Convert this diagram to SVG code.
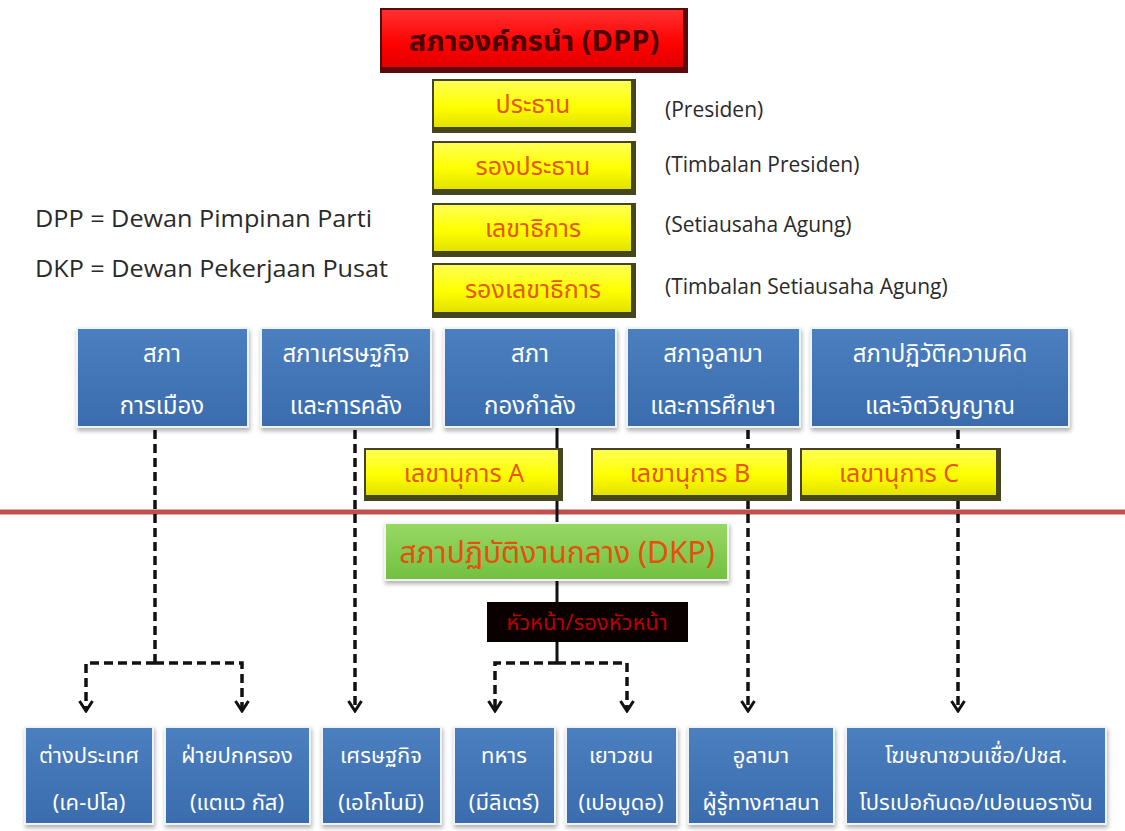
<svg xmlns="http://www.w3.org/2000/svg" width="1125" height="831" viewBox="0 0 1125 831">
<defs>
<style>
.th{font-family:"Noto Sans Thai","Noto Sans Thai UI","Noto Sans","DejaVu Sans",sans-serif;text-anchor:middle}
.lat{font-family:"Open Sans","Noto Sans","DejaVu Sans",sans-serif;fill:#2a2a2a}
.wt{fill:#ffffff;font-size:24px}
.wb{fill:#ffffff;font-size:22px}
.org{fill:#e8560c;font-size:25px}
.dash{fill:none;stroke:#111;stroke-width:3.5;stroke-dasharray:9 5}
.solid{fill:none;stroke:#111;stroke-width:3}
.blue{fill:url(#gb);stroke:#eef3f8;stroke-width:2;filter:url(#sh)}
.yframe{fill:#46461e}
.yin{fill:url(#gy)}
</style>
<linearGradient id="gy" x1="0" y1="0" x2="0" y2="1"><stop offset="0" stop-color="#ffff55"/><stop offset="0.55" stop-color="#ffff00"/><stop offset="1" stop-color="#e2e200"/></linearGradient>
<linearGradient id="gb" x1="0" y1="0" x2="0" y2="1"><stop offset="0" stop-color="#4b7fc0"/><stop offset="1" stop-color="#3a6cad"/></linearGradient>
<linearGradient id="gg" x1="0" y1="0" x2="0" y2="1"><stop offset="0" stop-color="#98d865"/><stop offset="1" stop-color="#72c040"/></linearGradient>
<linearGradient id="gr" x1="0" y1="0" x2="0" y2="1"><stop offset="0" stop-color="#ff3030"/><stop offset="0.6" stop-color="#ff0000"/><stop offset="1" stop-color="#e00000"/></linearGradient>
<filter id="sh" x="-10%" y="-10%" width="125%" height="135%"><feDropShadow dx="1" dy="3" stdDeviation="2" flood-color="#000" flood-opacity="0.3"/></filter>
<marker id="arr" viewBox="0 0 16 16" refX="14" refY="8" markerWidth="16" markerHeight="16" markerUnits="userSpaceOnUse" orient="auto"><path d="M4,1.5 L14,8 L4,14.5" fill="none" stroke="#111" stroke-width="3"/></marker>
</defs>
<rect width="1125" height="831" fill="#ffffff"/>
<line x1="0" y1="512" x2="1125" y2="512" stroke="#c0504d" stroke-width="5"/>
<g id="connectors">
<path class="dash" d="M155,430 V663"/>
<path class="dash" d="M155,663 H86 V711" marker-end="url(#arr)"/>
<path class="dash" d="M155,663 H242 V711" marker-end="url(#arr)"/>
<path class="dash" d="M355,430 V711" marker-end="url(#arr)"/>
<path class="solid" d="M557,428 V523"/>
<path class="solid" d="M557,580 V602"/>
<path class="solid" d="M557,642 V663"/>
<path class="dash" d="M557,663 H495 V711" marker-end="url(#arr)"/>
<path class="dash" d="M557,663 H627 V711" marker-end="url(#arr)"/>
<path class="dash" d="M748,430 V711" marker-end="url(#arr)"/>
<path class="dash" d="M958,430 V711" marker-end="url(#arr)"/>
</g>
<g id="dpp">
<rect x="380" y="8" width="308" height="65" fill="#5a0a0a"/>
<rect x="382" y="10" width="301" height="57" fill="url(#gr)"/>
<text class="th" x="534" y="51" font-size="29" font-weight="bold" fill="#4a0000">สภาองค์กรนำ (DPP)</text>
</g>
<g id="presiden">
<rect class="yframe" x="432" y="79" width="204" height="54"/>
<rect class="yin" x="434" y="81" width="197" height="46"/>
<text class="th org" x="533" y="113">ประธาน</text>
<text class="lat" x="665" y="117" font-size="21">(Presiden)</text>
</g>
<g id="timbalan-presiden">
<rect class="yframe" x="432" y="141" width="204" height="54"/>
<rect class="yin" x="434" y="143" width="197" height="46"/>
<text class="th org" x="533" y="175">รองประธาน</text>
<text class="lat" x="665" y="172" font-size="21">(Timbalan Presiden)</text>
</g>
<g id="setiausaha">
<rect class="yframe" x="432" y="203" width="204" height="54"/>
<rect class="yin" x="434" y="205" width="197" height="46"/>
<text class="th org" x="533" y="237">เลขาธิการ</text>
<text class="lat" x="665" y="232" font-size="21">(Setiausaha Agung)</text>
</g>
<g id="timbalan-setiausaha">
<rect class="yframe" x="432" y="263" width="204" height="55"/>
<rect class="yin" x="434" y="265" width="197" height="47"/>
<text class="th org" x="533" y="298">รองเลขาธิการ</text>
<text class="lat" x="665" y="294" font-size="21">(Timbalan Setiausaha Agung)</text>
</g>
<g id="legend">
<text class="lat" x="35" y="227" font-size="24" textLength="337" lengthAdjust="spacingAndGlyphs">DPP = Dewan Pimpinan Parti</text>
<text class="lat" x="35" y="277" font-size="24" textLength="353" lengthAdjust="spacingAndGlyphs">DKP = Dewan Pekerjaan Pusat</text>
</g>
<g id="sapa-politik">
<rect class="blue" x="77" y="328" width="171" height="99"/>
<text class="th wt" x="162" y="362">สภา</text>
<text class="th wt" x="162" y="414">การเมือง</text>
</g>
<g id="sapa-ekonomi">
<rect class="blue" x="261" y="328" width="170" height="99"/>
<text class="th wt" x="346" y="362">สภาเศรษฐกิจ</text>
<text class="th wt" x="346" y="414">และการคลัง</text>
</g>
<g id="sapa-kekuatan">
<rect class="blue" x="444" y="328" width="172" height="99"/>
<text class="th wt" x="530" y="362">สภา</text>
<text class="th wt" x="530" y="414">กองกำลัง</text>
</g>
<g id="sapa-ulama">
<rect class="blue" x="627" y="328" width="173" height="99"/>
<text class="th wt" x="713" y="362">สภาอูลามา</text>
<text class="th wt" x="713" y="414">และการศึกษา</text>
</g>
<g id="sapa-revolusi">
<rect class="blue" x="811" y="328" width="258" height="99"/>
<text class="th wt" x="940" y="362">สภาปฏิวัติความคิด</text>
<text class="th wt" x="940" y="414">และจิตวิญญาณ</text>
</g>
<g id="sek-a">
<rect class="yframe" x="364" y="448" width="199" height="53"/>
<rect class="yin" x="366" y="450" width="192" height="45"/>
<text class="th org" x="464" y="482">เลขานุการ A</text>
</g>
<g id="sek-b">
<rect class="yframe" x="591" y="448" width="201" height="53"/>
<rect class="yin" x="593" y="450" width="194" height="45"/>
<text class="th org" x="690" y="482">เลขานุการ B</text>
</g>
<g id="sek-c">
<rect class="yframe" x="800" y="448" width="201" height="53"/>
<rect class="yin" x="802" y="450" width="194" height="45"/>
<text class="th org" x="899" y="482">เลขานุการ C</text>
</g>
<g id="dkp">
<rect x="385" y="523" width="343" height="57" fill="url(#gg)" stroke="#f4f4f4" stroke-width="2" filter="url(#sh)"/>
<text class="th" x="557" y="563" font-size="30" fill="#e4500e">สภาปฏิบัติงานกลาง (DKP)</text>
</g>
<g id="ketua">
<rect x="487" y="602" width="201" height="40" fill="#0a0000"/>
<text class="th" x="587" y="630" font-size="22" fill="#b80000">หัวหน้า/รองหัวหน้า</text>
</g>
<g id="luar-negeri">
<rect class="blue" x="25" y="727" width="128" height="97"/>
<text class="th wb" x="89" y="763">ต่างประเทศ</text>
<text class="th wb" x="89" y="810">(เค-ปโล)</text>
</g>
<g id="pentadbiran">
<rect class="blue" x="165" y="727" width="145" height="97"/>
<text class="th wb" x="237" y="763">ฝ่ายปกครอง</text>
<text class="th wb" x="237" y="810">(แตแว กัส)</text>
</g>
<g id="ekonomi">
<rect class="blue" x="322" y="727" width="119" height="97"/>
<text class="th wb" x="381" y="763">เศรษฐกิจ</text>
<text class="th wb" x="381" y="810">(เอโกโนมิ)</text>
</g>
<g id="militer">
<rect class="blue" x="454" y="727" width="101" height="97"/>
<text class="th wb" x="504" y="763">ทหาร</text>
<text class="th wb" x="504" y="810">(มีลิเตร์)</text>
</g>
<g id="pemuda">
<rect class="blue" x="566" y="727" width="111" height="97"/>
<text class="th wb" x="621" y="763">เยาวชน</text>
<text class="th wb" x="621" y="810">(เปอมูดอ)</text>
</g>
<g id="ulama">
<rect class="blue" x="688" y="727" width="146" height="97"/>
<text class="th wb" x="761" y="763">อูลามา</text>
<text class="th wb" x="761" y="810">ผู้รู้ทางศาสนา</text>
</g>
<g id="propaganda">
<rect class="blue" x="846" y="727" width="260" height="97"/>
<text class="th wb" x="976" y="763">โฆษณาชวนเชื่อ/ปชส.</text>
<text class="th wb" x="976" y="810">โปรเปอกันดอ/เปอเนอรางัน</text>
</g>
</svg>
